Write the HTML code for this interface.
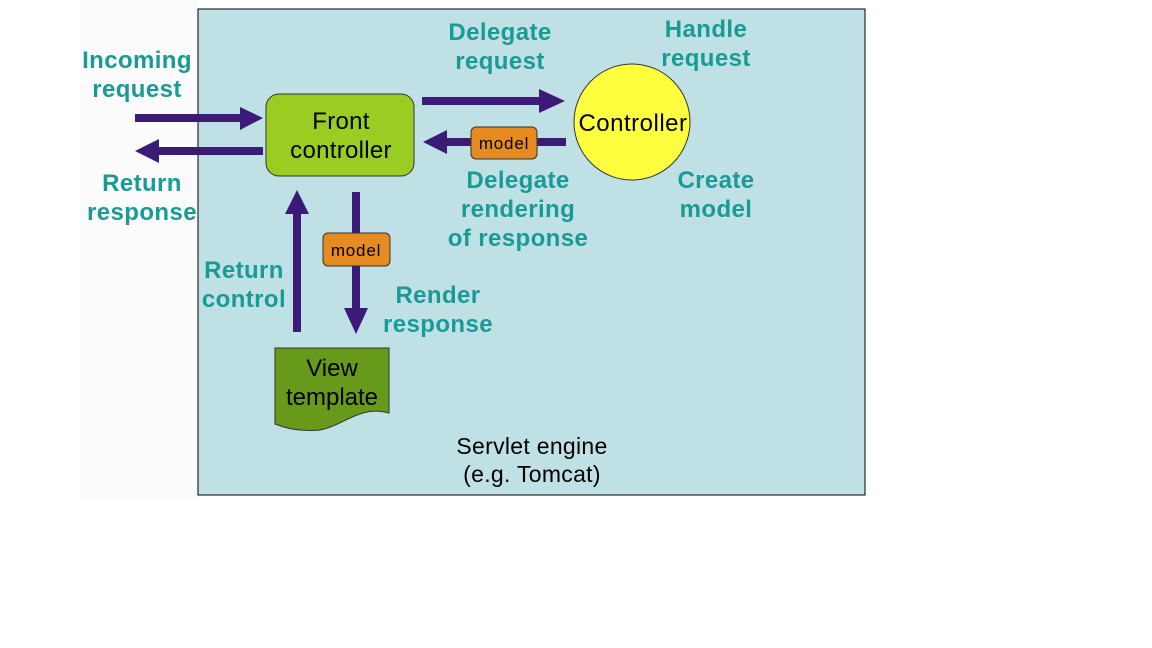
<!DOCTYPE html>
<html><head><style>body{margin:0;background:#fff}svg{display:block}</style></head><body>
<svg width="1152" height="648" xmlns="http://www.w3.org/2000/svg" font-family="Liberation Sans, sans-serif">
<rect x="80" y="0" width="118" height="500" fill="#fbfbfb"/>
<rect x="198" y="9" width="667" height="486" fill="#bfe1e5" stroke="#000" stroke-width="1"/>
<g fill="#3b1a78">
<rect x="135" y="114" width="108" height="8"/><polygon points="240,107 263,118 240,130"/>
<rect x="157" y="147" width="106" height="8"/><polygon points="159,139 135,151 159,163"/>
<rect x="422" y="97" width="120" height="8"/><polygon points="539,89 565,101 539,113"/>
<rect x="445" y="138" width="121" height="8"/><polygon points="447,130 423,142 447,154"/>
<rect x="352" y="192" width="8" height="118"/><polygon points="344,308 356,334 368,308"/>
<rect x="293" y="212" width="8" height="120"/><polygon points="285,214 297,190 309,214"/>
</g>
<rect x="266" y="94" width="148" height="82" rx="13" fill="#9acd22" stroke="#333" stroke-width="1"/>
<text x="341" y="129" font-size="24" text-anchor="middle" letter-spacing="0.3">Front</text>
<text x="341" y="158" font-size="24" text-anchor="middle" letter-spacing="0.3">controller</text>
<circle cx="632" cy="122" r="58" fill="#ffff40" stroke="#333" stroke-width="1"/>
<text x="633" y="131" font-size="24" text-anchor="middle" letter-spacing="0.5">Controller</text>
<rect x="471" y="127" width="66" height="32" rx="5" fill="#e68a22" stroke="#333"/>
<text x="504" y="149" font-size="17" text-anchor="middle" letter-spacing="0.8">model</text>
<rect x="323" y="233" width="67" height="33" rx="5" fill="#e68a22" stroke="#333"/>
<text x="356" y="256" font-size="17" text-anchor="middle" letter-spacing="0.8">model</text>
<path d="M275,348 H389 V413 C360,405 345,425 320,430 C300,432 285,428 275,424 Z" fill="#679a1a" stroke="#333"/>
<text x="332" y="376" font-size="24" text-anchor="middle">View</text>
<text x="332" y="405" font-size="24" text-anchor="middle">template</text>
<text x="532" y="454" font-size="23" text-anchor="middle" letter-spacing="0.3">Servlet engine</text>
<text x="532" y="482" font-size="23" text-anchor="middle" letter-spacing="0.3">(e.g. Tomcat)</text>
<g fill="#1a9a96" font-weight="bold" font-size="24" text-anchor="middle" letter-spacing="0.4">
<text x="137" y="68">Incoming</text><text x="137" y="97">request</text>
<text x="142" y="191">Return</text><text x="142" y="220">response</text>
<text x="500" y="40">Delegate</text><text x="500" y="69">request</text>
<text x="706" y="37">Handle</text><text x="706" y="66">request</text>
<text x="518" y="188">Delegate</text><text x="518" y="217">rendering</text><text x="518" y="246">of response</text>
<text x="716" y="188">Create</text><text x="716" y="217">model</text>
<text x="244" y="278">Return</text><text x="244" y="307">control</text>
<text x="438" y="303">Render</text><text x="438" y="332">response</text>
</g>
</svg>
</body></html>
